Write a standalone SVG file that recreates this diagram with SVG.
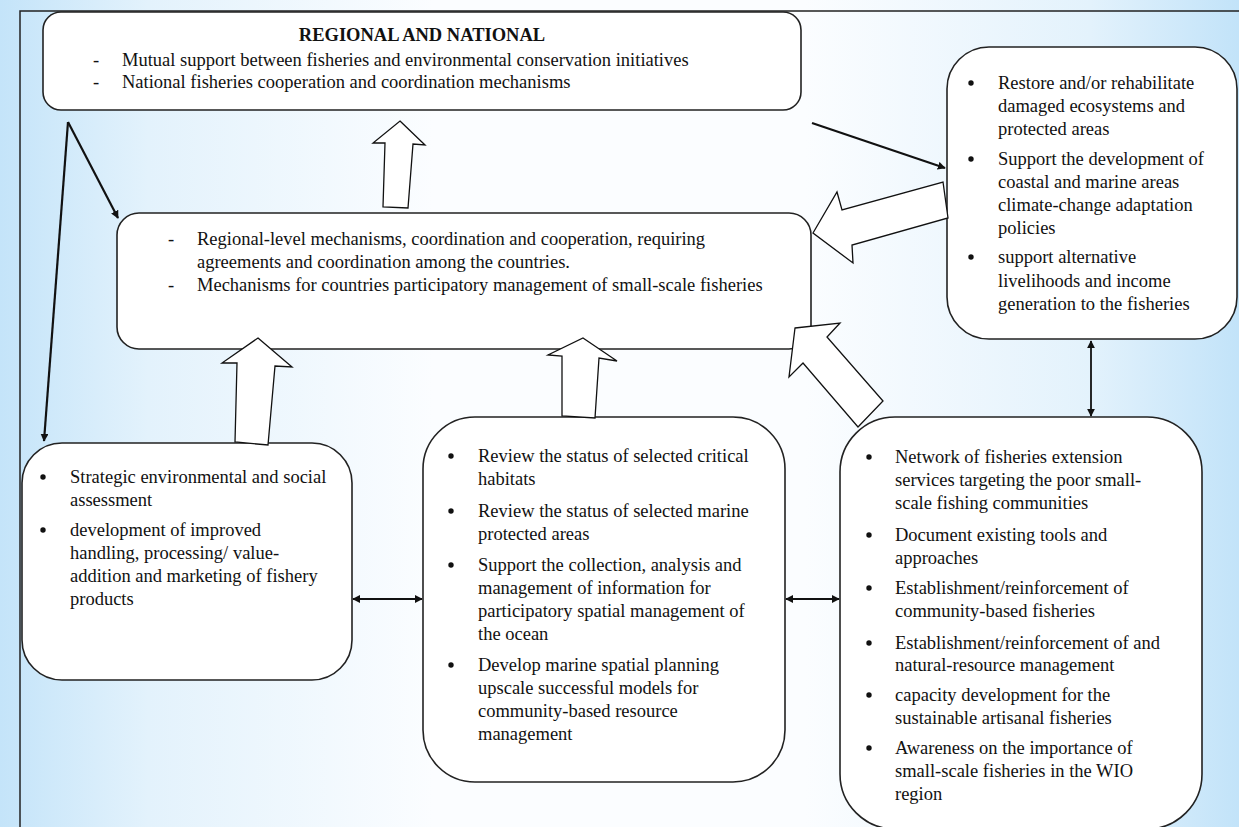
<svg xmlns="http://www.w3.org/2000/svg" width="1239" height="827" viewBox="0 0 1239 827">
<defs>
<linearGradient id="bg" x1="0" y1="0" x2="1" y2="0">
<stop offset="0" stop-color="#c4e4f9"/>
<stop offset="0.12" stop-color="#e3f2fc"/>
<stop offset="0.35" stop-color="#fbfdff"/>
<stop offset="0.65" stop-color="#fbfdff"/>
<stop offset="0.88" stop-color="#e3f2fc"/>
<stop offset="1" stop-color="#c2e3f9"/>
</linearGradient>
<marker id="ah" viewBox="0 0 10 10" refX="9" refY="5" markerWidth="8" markerHeight="8" markerUnits="userSpaceOnUse" orient="auto-start-reverse">
<path d="M0,0 L10,5 L0,10 z" fill="#111"/>
</marker>
<style>
.box{fill:#fff;stroke:#222;stroke-width:1.6}
.blk{fill:#fff;stroke:#111;stroke-width:1.3;stroke-linejoin:miter}
.ln{fill:none;stroke:#111;stroke-width:2.2}
.dl{fill:none;stroke:#111;stroke-width:1.8}
text{font-family:"Liberation Serif","Times New Roman",serif;font-size:18.5px;fill:#111}
.b{font-weight:bold}
</style>
</defs>
<rect x="0" y="0" width="1239" height="827" fill="url(#bg)"/>
<path d="M20,827 L20,11 L1239,11" fill="none" stroke="#222" stroke-width="1.5"/>

<g id="node-regional-national">
<rect class="box" x="43" y="12" width="758" height="98" rx="18"/>
<text class="b" x="422" y="41" text-anchor="middle">REGIONAL AND NATIONAL</text>
<text x="93" y="66">-</text><text x="122" y="66">Mutual support between fisheries and environmental conservation initiatives</text>
<text x="93" y="88">-</text><text x="122" y="88">National fisheries cooperation and coordination mechanisms</text>
</g>

<g id="node-regional-level">
<rect class="box" x="117" y="213" width="694" height="136" rx="22"/>
<text x="168" y="245">-</text><text x="197" y="245">Regional-level mechanisms, coordination and cooperation, requiring</text>
<text x="197" y="268">agreements and coordination among the countries.</text>
<text x="168" y="291">-</text><text x="197" y="291">Mechanisms for countries participatory management of small-scale fisheries</text>
</g>

<g id="node-restore">
<rect class="box" x="947" y="47" width="290" height="292" rx="42"/>
<circle cx="971" cy="83" r="2.7" fill="#111"/>
<text x="998" y="89">Restore and/or rehabilitate</text>
<text x="998" y="112">damaged ecosystems and</text>
<text x="998" y="135">protected areas</text>
<circle cx="971" cy="159" r="2.7" fill="#111"/>
<text x="998" y="165">Support the development of</text>
<text x="998" y="188">coastal and marine areas</text>
<text x="998" y="211">climate-change adaptation</text>
<text x="998" y="234">policies</text>
<circle cx="971" cy="257" r="2.7" fill="#111"/>
<text x="998" y="263">support alternative</text>
<text x="998" y="287">livelihoods and income</text>
<text x="998" y="310">generation to the fisheries</text>
</g>

<g id="node-strategic">
<rect class="box" x="22" y="443" width="330" height="237" rx="40"/>
<circle cx="43" cy="477" r="2.7" fill="#111"/>
<text x="70" y="483">Strategic environmental and social</text>
<text x="70" y="506">assessment</text>
<circle cx="43" cy="530" r="2.7" fill="#111"/>
<text x="70" y="536">development of improved</text>
<text x="70" y="559">handling,  processing/ value-</text>
<text x="70" y="582">addition and marketing of fishery</text>
<text x="70" y="605">products</text>
</g>

<g id="node-review">
<rect class="box" x="423" y="417" width="362" height="365" rx="52"/>
<circle cx="451" cy="456" r="2.7" fill="#111"/>
<text x="478" y="462">Review the status of selected critical</text>
<text x="478" y="485">habitats</text>
<circle cx="451" cy="511" r="2.7" fill="#111"/>
<text x="478" y="517">Review the status of selected marine</text>
<text x="478" y="540">protected areas</text>
<circle cx="451" cy="565" r="2.7" fill="#111"/>
<text x="478" y="571">Support the collection, analysis and</text>
<text x="478" y="594">management of information for</text>
<text x="478" y="617">participatory spatial management of</text>
<text x="478" y="640">the ocean</text>
<circle cx="451" cy="665" r="2.7" fill="#111"/>
<text x="478" y="671">Develop marine spatial planning</text>
<text x="478" y="694">upscale successful models for</text>
<text x="478" y="717">community-based resource</text>
<text x="478" y="740">management</text>
</g>

<g id="node-network">
<rect class="box" x="840" y="417" width="362" height="412" rx="55"/>
<circle cx="869" cy="457" r="2.7" fill="#111"/>
<text x="895" y="463">Network of fisheries extension</text>
<text x="895" y="486">services targeting the poor small-</text>
<text x="895" y="509">scale fishing communities</text>
<circle cx="869" cy="535" r="2.7" fill="#111"/>
<text x="895" y="541">Document existing tools and</text>
<text x="895" y="564">approaches</text>
<circle cx="869" cy="588" r="2.7" fill="#111"/>
<text x="895" y="594">Establishment/reinforcement of</text>
<text x="895" y="617">community-based fisheries</text>
<circle cx="869" cy="643" r="2.7" fill="#111"/>
<text x="895" y="649">Establishment/reinforcement of and</text>
<text x="895" y="671">natural-resource management</text>
<circle cx="869" cy="695" r="2.7" fill="#111"/>
<text x="895" y="701">capacity development for the</text>
<text x="895" y="724">sustainable artisanal fisheries</text>
<circle cx="869" cy="748" r="2.7" fill="#111"/>
<text x="895" y="754">Awareness on the importance of</text>
<text x="895" y="777">small-scale fisheries in the WIO</text>
<text x="895" y="800">region</text>
</g>

<g id="connectors">
<polygon class="blk" points="400,121 425,145 413,144 408,208 383,207 385,143 373,143"/>
<polygon class="blk" points="813,233 837,192 842,210 943,182 948,218 852,245 853,263"/>
<polygon class="blk" points="795,328 840,323 827,337 883,401 858,427 803,363 789,377"/>
<polygon class="blk" points="258,338 292,367 275,366 268,445 235,442 237,363 222,363"/>
<polygon class="blk" points="583,338 617,361 599,358 595,418 562,416 562,356 548,355"/>
<line class="ln" x1="812" y1="123" x2="945" y2="168" marker-end="url(#ah)"/>
<line class="ln" x1="68" y1="122" x2="118" y2="218" marker-end="url(#ah)"/>
<line class="ln" x1="68" y1="122" x2="44" y2="441" marker-end="url(#ah)"/>
<line class="dl" x1="353" y1="599" x2="422" y2="599" marker-start="url(#ah)" marker-end="url(#ah)"/>
<line class="dl" x1="786" y1="599" x2="839" y2="599" marker-start="url(#ah)" marker-end="url(#ah)"/>
<line class="dl" x1="1091" y1="341" x2="1091" y2="416" marker-start="url(#ah)" marker-end="url(#ah)"/>
</g>
</svg>
